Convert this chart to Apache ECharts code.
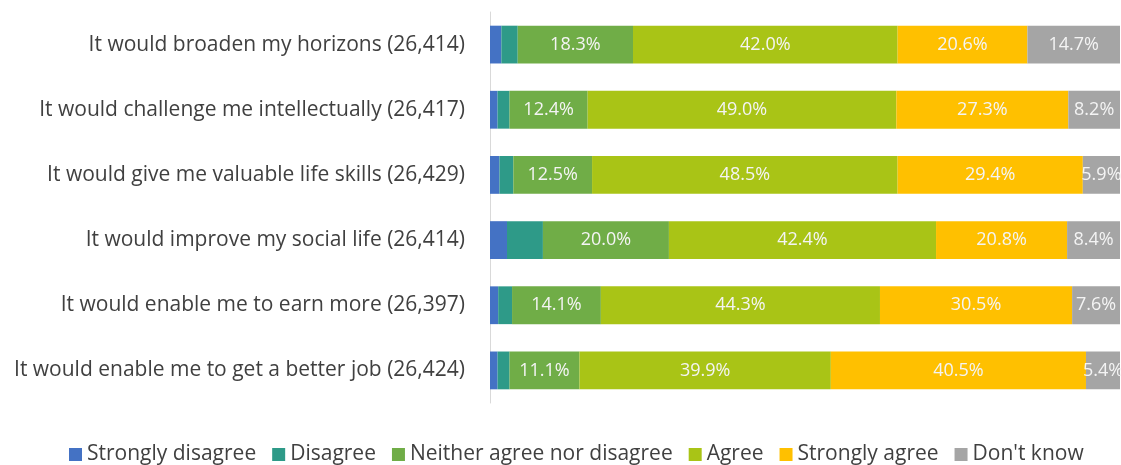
<!DOCTYPE html>
<html><head><meta charset="utf-8">
<script src="https://cdn.jsdelivr.net/npm/echarts@6/dist/echarts.min.js"></script>
<style>html,body{margin:0;padding:0;background:#fff}#c{width:1121px;height:465px}</style>
</head><body><div id="c"></div>
<script>
var categories = [
  "It would broaden my horizons (26,414)",
  "It would challenge me intellectually (26,417)",
  "It would give me valuable life skills (26,429)",
  "It would improve my social life (26,414)",
  "It would enable me to earn more (26,397)",
  "It would enable me to get a better job (26,424)"
];
var seriesNames = ["Strongly disagree","Disagree","Neither agree nor disagree","Agree","Strongly agree","Don't know"];
var stronglyDisagree = [1.8, 1.2, 1.5, 2.7, 1.3, 1.2];
var disagree = [2.6, 1.9, 2.2, 5.7, 2.2, 1.9];
var neither = [18.3, 12.4, 12.5, 20.0, 14.1, 11.1];
var agree = [42.0, 49.0, 48.5, 42.4, 44.3, 39.9];
var stronglyAgree = [20.6, 27.3, 29.4, 20.8, 30.5, 40.5];
var dontKnow = [14.7, 8.2, 5.9, 8.4, 7.6, 5.4];
var colors = ["#4472C4","#2E9A88","#70AD47","#A9C416","#FFC000","#A5A5A5"];
var allData = [stronglyDisagree, disagree, neither, agree, stronglyAgree, dontKnow];
var showLabel = [false,false,true,true,true,true];

var font = "'Open Sans', 'Noto Sans', sans-serif";
var series = seriesNames.map(function(n,i){
  return {
    name:n, type:'bar', stack:'t', barWidth:'58%',
    itemStyle:{color:colors[i]},
    label:{show:showLabel[i], position:'inside', color:'#F4F4F4', fontSize:18, fontFamily:font,
      formatter:function(p){return p.value.toFixed(1)+'%';}},
    emphasis:{disabled:true},
    data:allData[i]
  };
});
var chart = echarts.init(document.getElementById('c'));
chart.setOption({
  animation:false,
  grid:{left:490, right:1, top:12, bottom:62, containLabel:false},
  legend:{bottom:-5, left:64, itemWidth:13, itemHeight:13, itemGap:16, icon:'rect',
    textStyle:{fontSize:21, color:'#404040', fontFamily:font}, data:seriesNames},
  xAxis:{type:'value', min:0, max:100, show:false},
  yAxis:{type:'category', inverse:true, data:categories,
    axisLine:{show:true, lineStyle:{color:'#D9D9D9'}}, axisTick:{show:false},
    axisLabel:{fontSize:21, color:'#404040', fontFamily:font, margin:25}},
  series:series
});
</script></body></html>
